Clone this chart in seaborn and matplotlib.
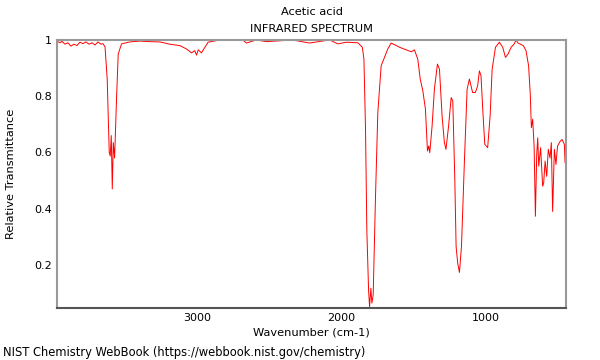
"""Acetic acid gas-phase IR spectrum (NIST WebBook style) redrawn with seaborn."""

import pandas as pd
import matplotlib
matplotlib.use('Agg')
import matplotlib.pyplot as plt
from matplotlib.ticker import MultipleLocator, FuncFormatter
import seaborn as sns

TITLE = 'Acetic acid'
SUBTITLE = 'INFRARED SPECTRUM'
SOURCE = 'NIST Chemistry WebBook (https://webbook.nist.gov/chemistry)'

# wavenumber (cm-1) and relative transmittance
wavenumber = [
    3964, 3945, 3932, 3911, 3890, 3870, 3849, 3828, 3808, 3787,
    3766, 3745, 3724, 3703, 3683, 3662, 3648, 3634, 3619, 3605,
    3598, 3591, 3584, 3577, 3568, 3554, 3543, 3520, 3463, 3394,
    3324, 3255, 3187, 3118, 3071, 3036, 3014, 3002, 2990, 2968,
    2922, 2841, 2682, 2657, 2588, 2519, 2338, 2221, 2082, 2025,
    1967, 1887, 1856, 1845, 1834, 1825, 1813, 1806, 1797, 1790,
    1781, 1765, 1749, 1726, 1703, 1680, 1657, 1621, 1599, 1553,
    1518, 1496, 1473, 1456, 1438, 1420, 1406, 1397, 1390, 1374,
    1358, 1337, 1323, 1305, 1289, 1278, 1260, 1242, 1231, 1217,
    1208, 1197, 1185, 1171, 1151, 1132, 1116, 1094, 1075, 1059,
    1047, 1036, 1024, 1010, 990, 973, 959, 936, 909, 886,
    867, 849, 828, 806, 794, 780, 744, 725, 707, 695,
    688, 679, 669, 660, 651, 644, 637, 624, 610, 603,
    593, 582, 571, 559, 550, 541, 529, 518, 507, 488,
    476, 460, 455,
]
transmittance = [
    0.995, 0.990, 0.995, 0.985, 0.990, 0.978, 0.985, 0.980, 0.992, 0.987,
    0.993, 0.985, 0.990, 0.982, 0.993, 0.985, 0.987, 0.975, 0.860, 0.600,
    0.587, 0.660, 0.470, 0.635, 0.580, 0.800, 0.950, 0.986, 0.993, 0.996,
    0.994, 0.993, 0.985, 0.980, 0.968, 0.954, 0.962, 0.946, 0.965, 0.954,
    0.992, 1.000, 1.000, 0.989, 1.000, 0.994, 1.000, 0.989, 1.000, 0.986,
    0.992, 0.990, 0.974, 0.932, 0.682, 0.325, 0.111, 0.051, 0.117, 0.064,
    0.093, 0.444, 0.742, 0.908, 0.938, 0.968, 0.989, 0.980, 0.974, 0.965,
    0.958, 0.965, 0.932, 0.861, 0.819, 0.754, 0.605, 0.623, 0.599, 0.694,
    0.825, 0.914, 0.896, 0.730, 0.635, 0.611, 0.694, 0.795, 0.783, 0.504,
    0.265, 0.206, 0.173, 0.265, 0.563, 0.825, 0.861, 0.813, 0.813, 0.837,
    0.890, 0.873, 0.754, 0.629, 0.617, 0.730, 0.896, 0.974, 0.992, 0.974,
    0.938, 0.950, 0.974, 0.986, 1.000, 0.989, 0.980, 0.962, 0.908, 0.801,
    0.688, 0.718, 0.623, 0.373, 0.593, 0.652, 0.551, 0.617, 0.480, 0.490,
    0.569, 0.515, 0.611, 0.580, 0.635, 0.390, 0.611, 0.557, 0.623, 0.640,
    0.646, 0.629, 0.563,
]

X_MAX, X_MIN = 3966, 450
Y_MIN, Y_MAX = 0.046, 1.0


def main():
    df = pd.DataFrame({'wavenumber': wavenumber, 'transmittance': transmittance})

    sns.set_theme(style='white')
    plt.rcParams['font.family'] = ['DejaVu Sans']
    plt.rcParams['text.color'] = 'black'
    plt.rcParams['axes.labelcolor'] = 'black'

    fig = plt.figure(figsize=(6, 3.6), dpi=100)
    ax = fig.add_axes([0.095, 0.144, 0.848, 0.745])

    sns.lineplot(data=df, x='wavenumber', y='transmittance', ax=ax,
                 color='#ff0000', linewidth=0.7, estimator=None)

    ax.set_xlim(X_MAX, X_MIN)
    ax.set_ylim(Y_MIN, Y_MAX)

    ax.xaxis.set_major_locator(MultipleLocator(1000))
    ax.xaxis.set_minor_locator(MultipleLocator(100))
    ax.yaxis.set_major_locator(MultipleLocator(0.2))
    ax.yaxis.set_minor_locator(MultipleLocator(0.05))
    ax.xaxis.set_major_formatter(FuncFormatter(lambda v, p: f'{v:.0f}'))
    ax.yaxis.set_major_formatter(FuncFormatter(lambda v, p: f'{v:g}'))

    ax.tick_params(which='both', direction='in', top=False, right=False,
                   labelsize=8, colors='#333333', labelcolor='black')
    ax.tick_params(which='major', length=5, width=1)
    ax.tick_params(which='minor', length=3, width=0.8)

    for side in ['top', 'right', 'left', 'bottom']:
        ax.spines[side].set_color('#999999')
        ax.spines[side].set_linewidth(1.5)
    ax.spines['bottom'].set_color('#555555')

    ax.set_xlabel('Wavenumber (cm-1)', fontsize=8.2, labelpad=3)
    ax.set_ylabel('Relative Transmittance', fontsize=8.2, labelpad=13)

    fig.text(0.52, 0.967, TITLE, ha='center', va='center', fontsize=8.2)
    fig.text(0.52, 0.919, SUBTITLE, ha='center', va='center', fontsize=8.2)
    fig.text(0.005, 0.022, SOURCE, ha='left', va='center', fontsize=8.3)

    fig.savefig('out.png', dpi=100)


if __name__ == '__main__':
    main()
